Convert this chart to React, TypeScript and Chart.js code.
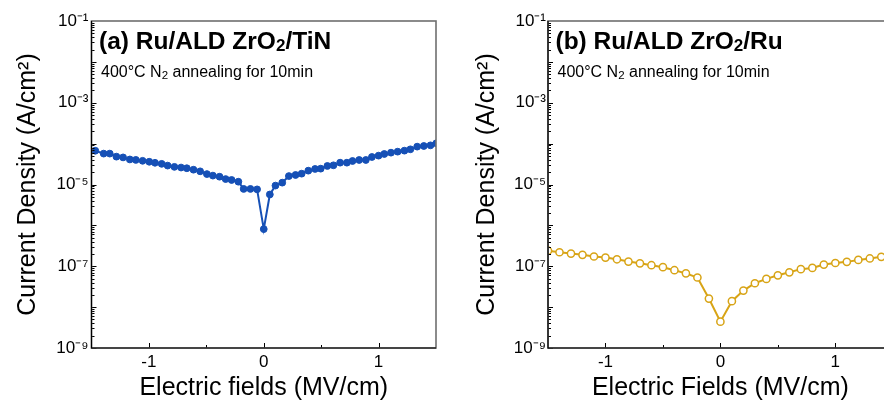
import React, { useEffect, useRef } from 'react';
import { Chart, registerables } from 'chart.js';

Chart.register(...registerables);

// ---------- data ----------
const fieldA = [
  -1.467, -1.394, -1.341, -1.283, -1.225, -1.166, -1.114, -1.055, -0.997, -0.947,
  -0.889, -0.837, -0.778, -0.72, -0.67, -0.612, -0.554, -0.495, -0.443, -0.385,
  -0.332, -0.28, -0.221, -0.175, -0.116, -0.058, 0, 0.053, 0.102, 0.161,
  0.219, 0.277, 0.33, 0.388, 0.447, 0.496, 0.554, 0.607, 0.665, 0.724,
  0.773, 0.831, 0.889, 0.942, 1.0, 1.05, 1.108, 1.166, 1.225, 1.277,
  1.336, 1.394, 1.452, 1.502,
];
const densityA = [
  6.7e-5, 5.7e-5, 5.7e-5, 4.8e-5, 4.6e-5, 4.1e-5, 4.0e-5, 3.8e-5, 3.6e-5, 3.4e-5,
  3.2e-5, 2.9e-5, 2.7e-5, 2.6e-5, 2.5e-5, 2.3e-5, 2.1e-5, 1.8e-5, 1.65e-5, 1.55e-5,
  1.36e-5, 1.29e-5, 1.17e-5, 7.8e-6, 7.8e-6, 7.6e-6, 8.1e-7, 5.7e-6, 9.4e-6, 1.11e-5,
  1.61e-5, 1.71e-5, 1.84e-5, 2.18e-5, 2.4e-5, 2.44e-5, 2.84e-5, 2.95e-5, 3.42e-5, 3.42e-5,
  3.76e-5, 3.98e-5, 3.98e-5, 4.71e-5, 5.08e-5, 5.58e-5, 6.01e-5, 6.36e-5, 6.73e-5, 7.26e-5,
  8.44e-5, 8.75e-5, 9.08e-5, 1.02e-4,
];

const fieldB = [
  -1.5, -1.4, -1.3, -1.2, -1.1, -1.0, -0.9, -0.8, -0.7, -0.6, -0.5, -0.4, -0.3, -0.2, -0.1,
  0, 0.1, 0.2, 0.3, 0.4, 0.5, 0.6, 0.7, 0.8, 0.9, 1.0, 1.1, 1.2, 1.3, 1.4, 1.5,
];
const densityB = [
  2.4e-7, 2.2e-7, 2.04e-7, 1.9e-7, 1.73e-7, 1.63e-7, 1.48e-7, 1.3e-7, 1.18e-7, 1.06e-7,
  9.5e-8, 8.0e-8, 6.7e-8, 5.3e-8, 1.62e-8, 4.4e-9, 1.4e-8, 2.54e-8, 3.84e-8, 4.9e-8,
  6.0e-8, 7.1e-8, 8.5e-8, 9.1e-8, 1.1e-7, 1.2e-7, 1.28e-7, 1.43e-7, 1.55e-7, 1.7e-7, 1.85e-7,
];

const yTickValues = [1e-9, 1e-7, 1e-5, 1e-3, 1e-1];
const yTickLabels = ['10⁻⁹', '10⁻⁷', '10⁻⁵', '10⁻³', '10⁻¹'];
const xTickValues = [-1, 0, 1];
const xTickLabels = ['-1', '0', '1'];
const xMarkValues = [-1, -0.5, 0, 0.5, 1];

const yTitle = 'Current Density (A/cm²)';
const xTitleA = 'Electric fields (MV/cm)';
const xTitleB = 'Electric Fields (MV/cm)';

type Part = { t: string; sub?: boolean };
const headA: Part[] = [{ t: '(a) Ru/ALD ZrO' }, { t: '2', sub: true }, { t: '/TiN' }];
const headB: Part[] = [{ t: '(b) Ru/ALD ZrO' }, { t: '2', sub: true }, { t: '/Ru' }];
const noteParts: Part[] = [{ t: '400°C N' }, { t: '2', sub: true }, { t: ' annealing for 10min' }];

const FONT = "'Liberation Sans', Arial, sans-serif";
const BLUE = 'rgb(22,80,182)';
const GOLD = 'rgb(216,164,22)';

function drawParts(ctx: CanvasRenderingContext2D, parts: Part[], x: number, y: number, weight: string, size: number, subSize: number, subDrop: number) {
  let cx = x;
  for (const p of parts) {
    const s = p.sub ? subSize : size;
    ctx.font = `${weight} ${s}px ${FONT}`;
    ctx.fillText(p.t, cx, p.sub ? y + subDrop : y);
    cx += ctx.measureText(p.t).width;
  }
}

const framePlugin = {
  id: 'frameDeco',
  afterDraw(chart: any, _args: any, opts: any) {
    const { ctx, chartArea: a, scales } = chart;
    const ys = scales.y;
    const xs = scales.x;
    ctx.save();
    ctx.strokeStyle = '#000';
    ctx.lineWidth = 1;
    ctx.beginPath();
    for (let e = -9; e <= -2; e++) {
      for (let m = 1; m <= 9; m++) {
        const py = Math.round(ys.getPixelForValue(m * Math.pow(10, e))) + 0.5;
        const len = m === 1 ? 5 : 3;
        ctx.moveTo(a.left, py);
        ctx.lineTo(a.left + len, py);
      }
    }
    for (const v of xMarkValues) {
      const px = Math.round(xs.getPixelForValue(v)) + 0.5;
      const len = Number.isInteger(v) ? 5 : 3;
      ctx.moveTo(px, a.bottom);
      ctx.lineTo(px, a.bottom - len);
    }
    ctx.stroke();

    ctx.strokeStyle = '#6e6e6e';
    ctx.lineWidth = 1.6;
    ctx.strokeRect(a.left, a.top, a.right - a.left, a.bottom - a.top);
    ctx.strokeStyle = '#000';
    ctx.lineWidth = 1.2;
    ctx.beginPath();
    ctx.moveTo(a.left, a.top);
    ctx.lineTo(a.left, a.bottom);
    ctx.lineTo(a.right, a.bottom);
    ctx.stroke();

    ctx.fillStyle = '#000';
    ctx.textBaseline = 'alphabetic';
    ctx.textAlign = 'left';
    drawParts(ctx, opts.head, a.left + 7.5, 49, 'bold', 24.5, 17, 1.5);
    drawParts(ctx, opts.note, a.left + 9.5, 77, 'normal', 16, 11.5, 2);
    ctx.restore();
  },
};

type PanelSpec = {
  field: number[];
  density: number[];
  xTitle: string;
  head: Part[];
  yAxisWidth: number;
  yTitlePad: number;
  yTickPad: number;
  rightPad: number;
  hollow: boolean;
};

function makeConfig(p: PanelSpec): any {
  const tickFont = { family: FONT, size: 17 };
  const titleFont = { family: FONT, size: 25 };
  return {
    type: 'line',
    data: {
      datasets: [
        {
          data: p.field.map((x, i) => ({ x, y: p.density[i] })),
          borderColor: p.hollow ? GOLD : BLUE,
          backgroundColor: p.hollow ? '#fff' : BLUE,
          pointBackgroundColor: p.hollow ? '#fff' : BLUE,
          pointBorderColor: p.hollow ? GOLD : BLUE,
          pointRadius: p.hollow ? 3.6 : 3.4,
          pointBorderWidth: p.hollow ? 1.5 : 1,
          borderWidth: 2,
          tension: 0,
          fill: false,
        },
      ],
    },
    options: {
      animation: false,
      responsive: true,
      maintainAspectRatio: false,
      events: [],
      layout: { padding: { left: 0, top: 21, right: p.rightPad, bottom: 0 } },
      plugins: {
        legend: { display: false },
        tooltip: { enabled: false },
        frameDeco: { head: p.head, note: noteParts },
      },
      scales: {
        x: {
          type: 'linear',
          min: -1.5,
          max: 1.5,
          afterFit: (s: any) => { s.height = 55; },
          afterBuildTicks: (s: any) => { s.ticks = xTickValues.map((v) => ({ value: v })); },
          grid: { display: false, drawTicks: false },
          border: { display: false },
          ticks: {
            autoSkip: false,
            maxRotation: 0,
            padding: 4,
            color: '#000',
            font: tickFont,
            callback: (v: number) => { const i = xTickValues.indexOf(v); return i >= 0 ? xTickLabels[i] : ''; },
          },
          title: { display: true, text: p.xTitle, color: '#000', font: titleFont, padding: { top: 0, bottom: 0 } },
        },
        y: {
          type: 'logarithmic',
          min: 1e-9,
          max: 1e-1,
          afterFit: (s: any) => { s.width = p.yAxisWidth; },
          afterBuildTicks: (s: any) => { s.ticks = yTickValues.map((v) => ({ value: v })); },
          grid: { display: false, drawTicks: false },
          border: { display: false },
          ticks: {
            autoSkip: false,
            padding: p.yTickPad,
            color: '#000',
            font: tickFont,
            callback: (v: number) => {
              const i = yTickValues.findIndex((t) => Math.abs(Math.log10(t) - Math.log10(v)) < 1e-6);
              return i >= 0 ? yTickLabels[i] : '';
            },
          },
          title: { display: true, text: yTitle, color: '#000', font: titleFont, padding: { top: p.yTitlePad, bottom: 0 } },
        },
      },
    },
    plugins: [framePlugin],
  };
}

function Panel({ spec, left, width }: { spec: PanelSpec; left: number; width: number }) {
  const ref = useRef<HTMLCanvasElement | null>(null);
  useEffect(() => {
    if (!ref.current) return;
    const chart = new Chart(ref.current, makeConfig(spec));
    return () => chart.destroy();
  }, [spec]);
  return (
    <div style={{ position: 'absolute', left, top: 0, width, height: 403 }}>
      <canvas ref={ref} style={{ display: 'block' }} />
    </div>
  );
}

const specA: PanelSpec = {
  field: fieldA,
  density: densityA,
  xTitle: xTitleA,
  head: headA,
  yAxisWidth: 91.5,
  yTitlePad: 13.5,
  yTickPad: 3,
  rightPad: 6,
  hollow: false,
};

const specB: PanelSpec = {
  field: fieldB,
  density: densityB,
  xTitle: xTitleB,
  head: headB,
  yAxisWidth: 106,
  yTitlePad: 30,
  yTickPad: 2,
  rightPad: 9.2,
  hollow: true,
};

export default function App() {
  return (
    <div style={{ position: 'fixed', left: 0, top: 0, width: 884, height: 403, overflow: 'hidden', background: '#fff' }}>
      <Panel spec={specA} left={0} width={442} />
      <Panel spec={specB} left={442} width={460} />
    </div>
  );
}
